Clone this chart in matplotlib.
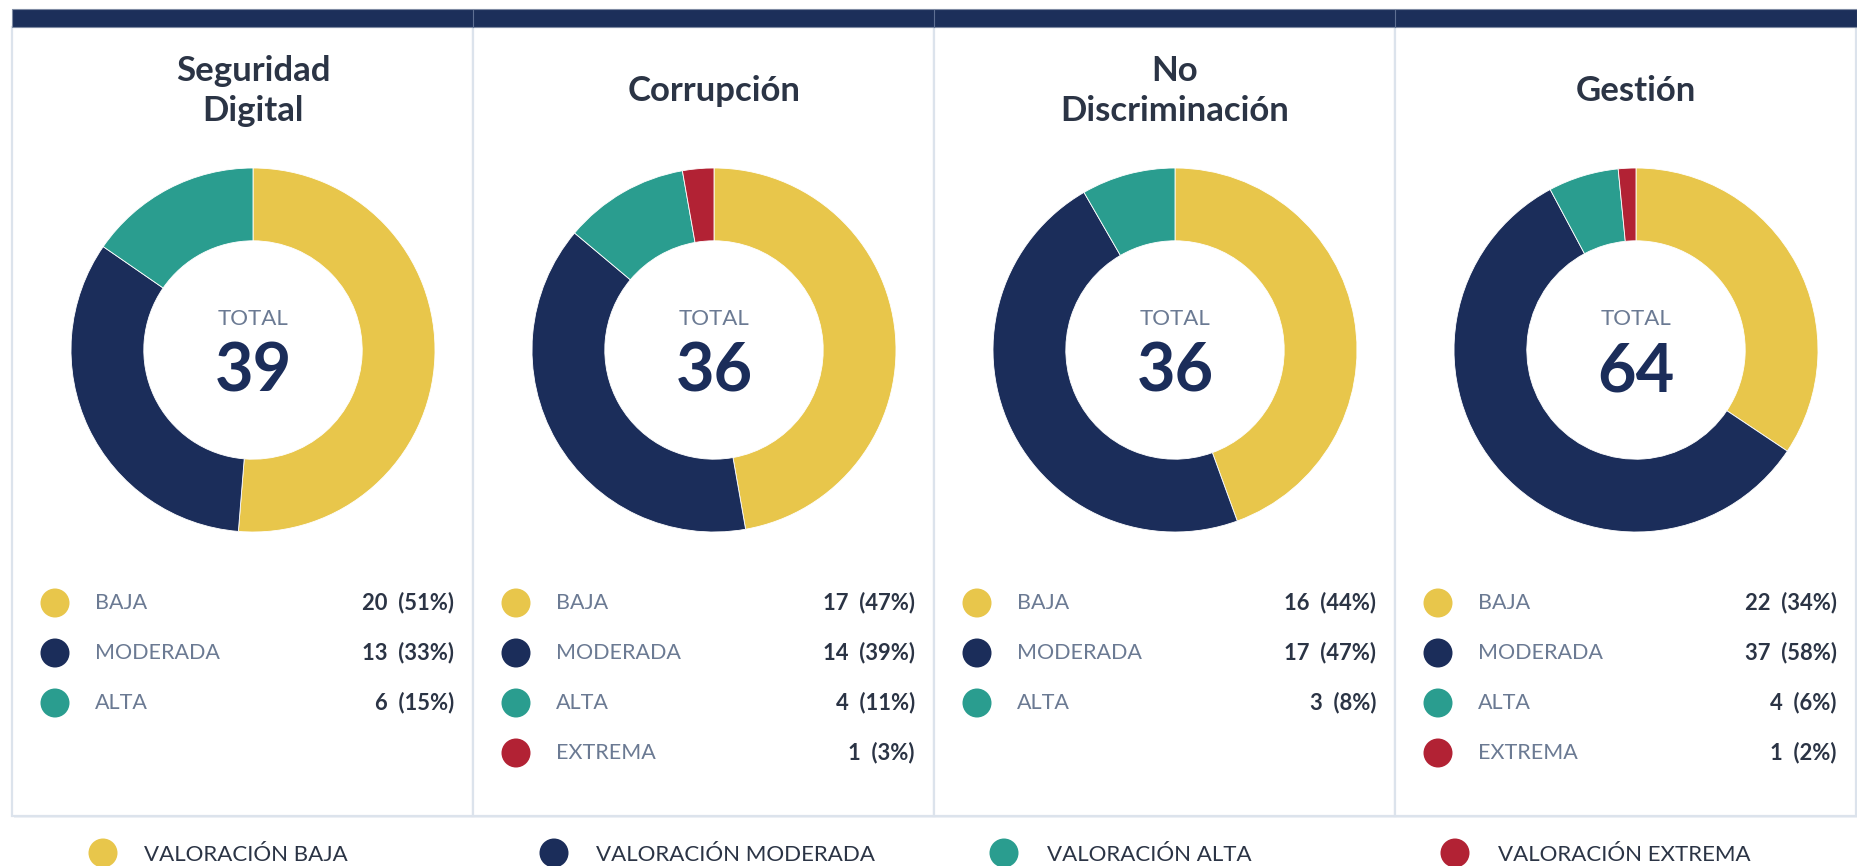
import matplotlib
matplotlib.use("Agg")
import matplotlib.pyplot as plt
from matplotlib.patches import Rectangle, Circle

plt.rcParams['font.family'] = ['Lato', 'DejaVu Sans']

# ---- data ----
titles = ["Seguridad\nDigital", "Corrupción", "No\nDiscriminación", "Gestión"]
categories = ["BAJA", "MODERADA", "ALTA", "EXTREMA"]
values_seguridad = [20, 13, 6]
values_corrupcion = [17, 14, 4, 1]
values_discriminacion = [16, 17, 3]
values_gestion = [22, 37, 4, 1]
series = [values_seguridad, values_corrupcion, values_discriminacion, values_gestion]
legend_labels = ["VALORACIÓN BAJA", "VALORACIÓN MODERADA", "VALORACIÓN ALTA", "VALORACIÓN EXTREMA"]

colors = ["#E8C64B", "#1B2D5A", "#2A9D8F", "#B22234"]
NAVY = "#1C2F5A"
TITLE_C = "#2B3445"
LABEL_C = "#6B7A93"

W, H = 1857, 866
fig = plt.figure(figsize=(W / 100, H / 100), dpi=100)
fig.patch.set_facecolor("white")
bg = fig.add_axes([0, 0, 1, 1])
bg.set_xlim(0, W)
bg.set_ylim(H, 0)
bg.axis("off")

panel_left = [12, 473, 934, 1395]
panel_w = 461
centers = [253, 714, 1175, 1636]
cy = 350
R = 182

# panels
for pl in panel_left:
    bg.add_patch(Rectangle((pl + 2, 29), panel_w, 789, facecolor="#EEF1F5", edgecolor="none", zorder=0))
    bg.add_patch(Rectangle((pl, 27), panel_w, 789, facecolor="white", edgecolor="#DCE3EC", lw=1.6, zorder=1))
# top bar
bg.add_patch(Rectangle((12, 9), W - 12, 18, facecolor=NAVY, edgecolor="#7F8BA3", lw=0.8, zorder=2))
for pl in panel_left[1:]:
    bg.plot([pl, pl], [10, 27], color="#5E6F92", lw=0.8, zorder=3)

for i, (title, vals, cx) in enumerate(zip(titles, series, centers)):
    bg.text(cx, 91, title, ha="center", va="center", fontsize=25, fontweight="bold",
            color=TITLE_C, linespacing=1.33, zorder=4)
    # donut axes
    ax = fig.add_axes([(cx - R) / W, 1 - (cy + R) / H, 2 * R / W, 2 * R / H])
    ax.pie(vals, colors=colors[:len(vals)], startangle=90, counterclock=False,
           radius=1, wedgeprops=dict(width=0.4, edgecolor="white", linewidth=0.6))
    ax.set_xlim(-1, 1)
    ax.set_ylim(-1, 1)
    ax.set_aspect("equal")
    ax.axis("off")
    total = sum(vals)
    bg.text(cx, 319, "TOTAL", ha="center", va="center", fontsize=16, color=LABEL_C, zorder=4)
    bg.text(cx, 372, str(total), ha="center", va="center", fontsize=48, fontweight="bold",
            color="#1B2D5A", zorder=4)
    # legend rows
    for j, v in enumerate(vals):
        y = 603 + 50 * j
        bg.add_patch(Circle((cx - 198, y), 14.5, facecolor=colors[j], edgecolor="none", zorder=4))
        bg.text(cx - 158, y, categories[j], ha="left", va="center", fontsize=15.5, color=LABEL_C, zorder=4)
        pct = round(100 * v / total)
        bg.text(cx + 201, y, f"{v}  ({pct}%)", ha="right", va="center", fontsize=15.8,
                fontweight="bold", color=TITLE_C, zorder=4)

# bottom legend
dot_x = [103, 554, 1004, 1455]
txt_x = [144, 596, 1047, 1498]
for k, lab in enumerate(legend_labels):
    bg.add_patch(Circle((dot_x[k], 853), 14.5, facecolor=colors[k], edgecolor="none", zorder=4))
    bg.text(txt_x[k], 855, lab, ha="left", va="center", fontsize=16, color=TITLE_C, zorder=4)

fig.savefig("out.png", dpi=100, facecolor="white")
